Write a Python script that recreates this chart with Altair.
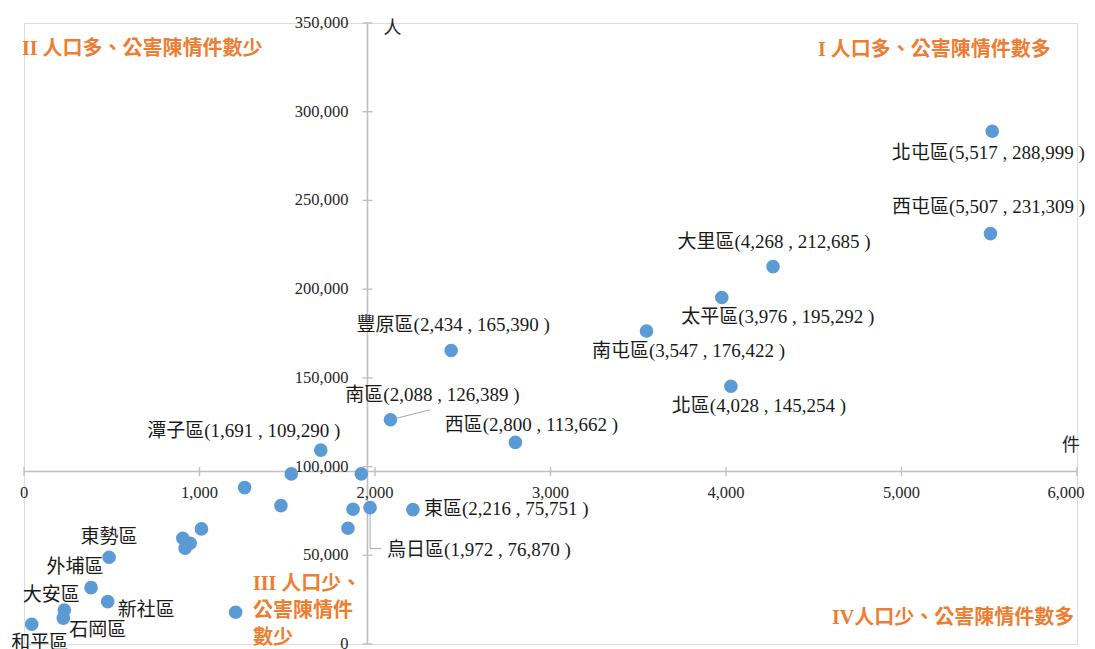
import altair as alt
import pandas as pd

# ---------------- data (公害陳情件數 件, 人口 人) ----------------
labeled_names = ["北屯區", "西屯區", "大里區", "太平區", "南屯區", "北區",
                 "豐原區", "南區", "西區", "潭子區", "東區", "烏日區"]
labeled_cases = [5517, 5507, 4268, 3976, 3547, 4028, 2434, 2088, 2800, 1691, 2216, 1972]
labeled_pop = [288999, 231309, 212685, 195292, 176422, 145254,
               165390, 126389, 113662, 109290, 75751, 76870]

named_names = ["東勢區", "外埔區", "新社區", "大安區", "石岡區", "和平區"]
named_cases = [485, 382, 477, 230, 224, 44]
named_pop = [48900, 31760, 23860, 19180, 14490, 11110]

other_cases = [1523, 1922, 1257, 1464, 1875, 1846, 1011, 905, 947, 918, 1206]
other_pop = [95880, 95900, 88160, 78000, 75970, 65250, 64860, 59600, 56800, 53970, 17880]

x_ticks = [0, 1000, 2000, 3000, 4000, 5000, 6000]
y_ticks = [0, 50000, 100000, 150000, 200000, 250000, 300000, 350000]

quadrant_texts = ["I 人口多、公害陳情件數多", "II 人口多、公害陳情件數少",
                  "III 人口少、\n公害陳情件\n數少", "IV人口少、公害陳情件數多"]

# ---------------- label layout (pixel offsets, style only) ----------------
label_layout = {
    "北屯區": (-4, 22, "center"),
    "西屯區": (-2, -27, "center"),
    "大里區": (1, -25, "center"),
    "太平區": (56, 20, "center"),
    "南屯區": (42, 20, "center"),
    "北區": (28, 20, "center"),
    "豐原區": (2, -26, "center"),
    "南區": (42, -25, "center"),
    "西區": (16, -17, "center"),
    "潭子區": (-77, -19, "center"),
    "東區": (11, -1, "left"),
    "烏日區": (17, 42, "left"),
    "東勢區": (0, -20, "center"),
    "外埔區": (-16, -21, "center"),
    "新社區": (10, 8, "left"),
    "大安區": (-13, -15, "center"),
    "石岡區": (6, 12, "left"),
    "和平區": (8, 19, "center"),
}

# ---------------- build tables ----------------
rows = []
for n, c, p in zip(labeled_names, labeled_cases, labeled_pop):
    rows.append({"name": n, "cases": c, "pop": p, "label": f"{n}({c:,} , {p:,} )"})
for n, c, p in zip(named_names, named_cases, named_pop):
    rows.append({"name": n, "cases": c, "pop": p, "label": n})
for c, p in zip(other_cases, other_pop):
    rows.append({"name": "", "cases": c, "pop": p, "label": ""})
df = pd.DataFrame(rows)

mean_x = df["cases"].mean()
mean_y = df["pop"].mean()
df_mean = pd.DataFrame({"mx": [mean_x], "my": [mean_y], "x0": [0], "x1": [6000], "y0": [0], "y1": [350000]})
df_xt = pd.DataFrame({"v": x_ticks, "my": [mean_y] * len(x_ticks)})
df_yt = pd.DataFrame({"v": y_ticks, "mx": [mean_x] * len(y_ticks)})

W, H = 1053, 621
xs = alt.Scale(domain=[0, 6000], nice=False, zero=False)
ys = alt.Scale(domain=[0, 350000], nice=False, zero=False)

SERIF = "Liberation Serif, Noto Sans CJK TC"
AXIS_C = "#BFBFBF"
ORANGE = "#ED7D31"

# axes lines
x_line = alt.Chart(df_mean).mark_rule(color=AXIS_C, strokeWidth=1.6).encode(
    x=alt.X("x0:Q", scale=xs, axis=None), x2="x1:Q", y=alt.Y("my:Q", scale=ys, axis=None))
y_line = alt.Chart(df_mean).mark_rule(color=AXIS_C, strokeWidth=1.6).encode(
    x=alt.X("mx:Q", scale=xs, axis=None), y=alt.Y("y0:Q", scale=ys, axis=None), y2="y1:Q")

x_tk = alt.Chart(df_xt).mark_tick(orient="vertical", size=9, thickness=1.4, color=AXIS_C, opacity=1).encode(
    x=alt.X("v:Q", scale=xs, axis=None), y=alt.Y("my:Q", scale=ys, axis=None))
y_tk = alt.Chart(df_yt).mark_tick(orient="horizontal", size=10, thickness=1.4, color=AXIS_C, opacity=1).encode(
    x=alt.X("mx:Q", scale=xs, axis=None), y=alt.Y("v:Q", scale=ys, axis=None))

x_lab = alt.Chart(df_xt).transform_filter(alt.datum.v < 6000).mark_text(
    font=SERIF, fontSize=16.5, color="#262626", dy=21, baseline="middle").encode(
    x=alt.X("v:Q", scale=xs, axis=None), y=alt.Y("my:Q", scale=ys, axis=None),
    text=alt.Text("v:Q", format=","))
x_lab_last = alt.Chart(df_xt).transform_filter(alt.datum.v >= 6000).mark_text(
    font=SERIF, fontSize=16.5, color="#262626", dy=21, dx=-11, baseline="middle").encode(
    x=alt.X("v:Q", scale=xs, axis=None), y=alt.Y("my:Q", scale=ys, axis=None),
    text=alt.Text("v:Q", format=","))
y_lab = alt.Chart(df_yt).mark_text(font=SERIF, fontSize=16.5, color="#262626", dx=-19, align="right",
                                   baseline="middle").encode(
    x=alt.X("mx:Q", scale=xs, axis=None), y=alt.Y("v:Q", scale=ys, axis=None),
    text=alt.Text("v:Q", format=","))

# unit labels
unit_y = alt.Chart(df_mean).mark_text(text="人", font=SERIF, fontSize=18, color="#222222", dx=25, dy=6,
                                      baseline="middle").encode(
    x=alt.X("mx:Q", scale=xs, axis=None), y=alt.Y("y1:Q", scale=ys, axis=None))
unit_x = alt.Chart(df_mean).mark_text(text="件", font=SERIF, fontSize=18, color="#222222", dx=-6, dy=-26,
                                      baseline="middle").encode(
    x=alt.X("x1:Q", scale=xs, axis=None), y=alt.Y("my:Q", scale=ys, axis=None))

# leader lines
lead = df[df["name"].isin(["南區", "烏日區"])]
lead1 = alt.Chart(lead).transform_filter(alt.datum.name == "南區").mark_rule(
    color="#A6A6A6", strokeWidth=1, x2Offset=40, y2Offset=-10).encode(
    x=alt.X("cases:Q", scale=xs, axis=None), x2="cases:Q",
    y=alt.Y("pop:Q", scale=ys, axis=None), y2="pop:Q")
lead2 = alt.Chart(lead).transform_filter(alt.datum.name == "烏日區").mark_rule(
    color="#A6A6A6", strokeWidth=1, x2Offset=0, y2Offset=41).encode(
    x=alt.X("cases:Q", scale=xs, axis=None), x2="cases:Q",
    y=alt.Y("pop:Q", scale=ys, axis=None), y2="pop:Q")
lead3 = alt.Chart(lead).transform_filter(alt.datum.name == "烏日區").mark_rule(
    color="#A6A6A6", strokeWidth=1, xOffset=0, x2Offset=11, yOffset=41, y2Offset=41).encode(
    x=alt.X("cases:Q", scale=xs, axis=None), x2="cases:Q",
    y=alt.Y("pop:Q", scale=ys, axis=None), y2="pop:Q")

points = alt.Chart(df).mark_circle(size=185, color="#5B9BD5", opacity=1).encode(
    x=alt.X("cases:Q", scale=xs, axis=None), y=alt.Y("pop:Q", scale=ys, axis=None))

labels = []
for n, (dx, dy, al) in label_layout.items():
    labels.append(
        alt.Chart(df).transform_filter(alt.datum.name == n).mark_text(
            font=SERIF, fontSize=19, color="#1A1A1A", dx=dx, dy=dy, align=al, baseline="middle").encode(
            x=alt.X("cases:Q", scale=xs, axis=None), y=alt.Y("pop:Q", scale=ys, axis=None), text="label:N"))

# quadrant annotations (pixel placement within the plot area)
qpos = [(794, 27, "left"), (-2, 26, "left"), (229, 561, "left"), (808, 595, "left")]
quads = []
for t, (px, py, al) in zip(quadrant_texts, qpos):
    quads.append(alt.Chart(df_mean).mark_text(
        text=t, font=SERIF, fontSize=20, fontWeight="bold", color=ORANGE, align=al,
        baseline="middle", lineBreak="\n", lineHeight=27).encode(
        x=alt.value(px), y=alt.value(py)))

chart = alt.layer(
    x_line, y_line, x_tk, y_tk, x_lab, x_lab_last, y_lab, unit_y, unit_x, lead1, lead2, lead3,
    points, *labels, *quads
).properties(
    width=W, height=H,
    autosize=alt.AutoSizeParams(type="none"),
    padding={"left": 16, "top": 15, "right": 10, "bottom": 5},
).configure_view(stroke=None).configure(background="white")

chart.save("out.html", embed_options={"renderer": "svg", "actions": False})
